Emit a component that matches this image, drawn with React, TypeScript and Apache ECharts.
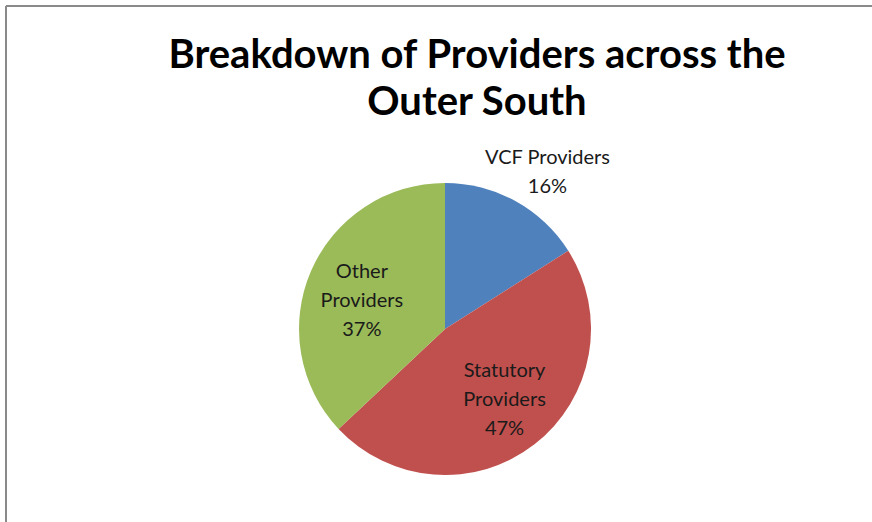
import React, { useEffect, useRef } from "react";
import * as echarts from "echarts";

const categories = ["VCF Providers", "Statutory Providers", "Other Providers"];
const values = [16, 47, 37];
const colors = ["#4F81BD", "#C0504D", "#9BBB59"];
const labelTexts = ["VCF Providers\n16%", "Statutory\nProviders\n47%", "Other\nProviders\n37%"];
const titleText = "Breakdown of Providers across the\nOuter South";

export default function App() {
  const ref = useRef<HTMLDivElement>(null);
  useEffect(() => {
    if (!ref.current) return;
    const chart = echarts.init(ref.current, null, { renderer: "svg" });
    const center = [445, 329];
    const R = 146;
    const labelFont = { fontFamily: "Lato", fontSize: 20, color: "#1a1a1a", lineHeight: 29 };
    const base = categories.map((c, i) => ({ name: c, value: values[i] }));
    chart.setOption({
      animation: false,
      backgroundColor: "#ffffff",
      graphic: [
        { type: "line", shape: { x1: 6, y1: 6, x2: 872, y2: 6 }, style: { stroke: "#8a8a8a", lineWidth: 2 } },
        { type: "line", shape: { x1: 6, y1: 6, x2: 6, y2: 522 }, style: { stroke: "#8a8a8a", lineWidth: 2 } },
        {
          type: "text",
          x: 477,
          y: 76,
          style: {
            text: titleText,
            fontFamily: "Lato",
            fontWeight: "bold",
            fontSize: 40,
            lineHeight: 47,
            fill: "#000",
            textAlign: "center",
            textVerticalAlign: "middle",
          },
        },
      ],
      series: [
        {
          type: "pie",
          center,
          radius: [0, R],
          startAngle: 90,
          clockwise: true,
          label: { show: false },
          labelLine: { show: false },
          emphasis: { disabled: true },
          data: base.map((d, i) => ({ ...d, itemStyle: { color: colors[i] } })),
        },
        {
          type: "pie",
          silent: true,
          center,
          radius: [0, R * 1.2],
          startAngle: 90,
          clockwise: true,
          itemStyle: { color: "rgba(0,0,0,0)" },
          labelLine: { show: false },
          emphasis: { disabled: true },
          data: base.map((d, i) => ({
            ...d,
            label: i === 0
              ? { show: false }
              : { show: true, position: "inside", formatter: labelTexts[i], offset: i === 2 ? [0, 6] : [4, -3], ...labelFont },
          })),
        },
        {
          type: "pie",
          silent: true,
          center,
          radius: [0, R * 2.56],
          startAngle: 90,
          clockwise: true,
          itemStyle: { color: "rgba(0,0,0,0)" },
          labelLine: { show: false },
          emphasis: { disabled: true },
          data: base.map((d, i) => ({
            ...d,
            label: i === 0
              ? { show: true, position: "inside", formatter: labelTexts[i], offset: [11, 8], ...labelFont }
              : { show: false },
          })),
        },
      ],
    });
    return () => chart.dispose();
  }, []);
  return (
    <div
      ref={ref}
      style={{ position: "absolute", left: 0, top: 0, width: 872, height: 522, background: "#fff" }}
    />
  );
}
